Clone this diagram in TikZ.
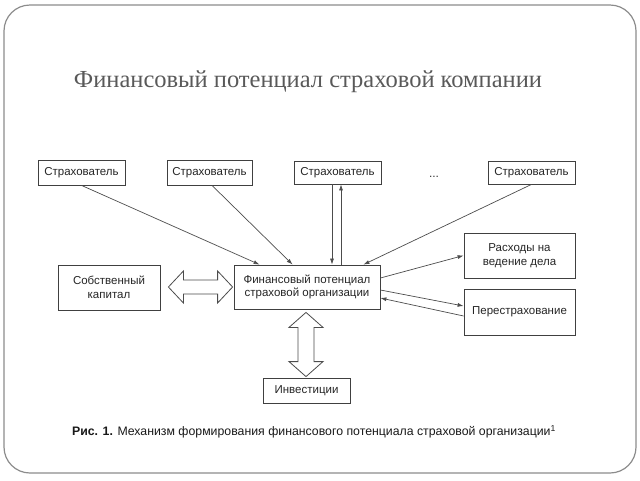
\documentclass[tikz,border=0pt]{standalone}
\usepackage{fontspec}
\setmainfont{Liberation Serif}
\newfontfamily\boxfont{Liberation Sans}
\usetikzlibrary{arrows.meta,calc}
\begin{document}
\begin{tikzpicture}[x=1pt,y=-1pt,
  box/.style={draw=black!75,line width=0.8pt,fill=white,text=black!85,font=\boxfont\fontsize{11.5}{13.5}\selectfont,align=center,inner sep=0pt},
  con/.style={draw=black!70,line width=0.7pt,-{Latex[length=6pt,width=4pt]}},
  dbl/.style={draw=black!70,line width=0.8pt,fill=white,line join=miter}
]
\useasboundingbox (0,0) rectangle (640,480);
\draw[draw=black!45,line width=1.2pt,rounded corners=26pt] (4,5) rectangle (636,473);
\node[text=black!65,font=\fontsize{24.5}{28}\selectfont,anchor=base] (title) at (308,87) {Финансовый потенциал страховой компании};

\node[box,minimum width=87,minimum height=25] (s1) at (81.5,172.5) {Страхователь};
\node[box,minimum width=85,minimum height=25] (s2) at (209.5,172.5) {Страхователь};
\node[box,minimum width=87,minimum height=23] (s3) at (337.5,172.5) {Страхователь};
\node[text=black!80,font=\boxfont\fontsize{12}{14}\selectfont,anchor=base] (dots) at (434,177) {...};
\node[box,minimum width=87,minimum height=23] (s4) at (531.5,172.5) {Страхователь};

\node[box,minimum width=146,minimum height=44] (fin) at (307,287) {Финансовый потенциал\\страховой организации};
\node[box,minimum width=102,minimum height=45] (own) at (109,287.5) {Собственный\\капитал};
\node[box,minimum width=111,minimum height=45] (ras) at (519.5,255.5) {Расходы на\\ведение дела};
\node[box,minimum width=111,minimum height=46] (per) at (519.5,312) {Перестрахование};
\node[box,minimum width=87,minimum height=25] (inv) at (306.5,390.5) {Инвестиции};

\node[text=black!90,font=\boxfont\fontsize{12.3}{14}\selectfont] (cap) at (314,432) {\textbf{Рис. 1.} Механизм формирования финансового потенциала страховой организации\textsuperscript{1}};

\draw[con] (s1.south) -- ([xshift=26pt]fin.north west);
\draw[con] ([xshift=2.5pt]s2.south) -- ([xshift=59pt]fin.north west);
\draw[con] ([xshift=-5.5pt]s3.south) -- ([xshift=-5.5pt]s3.south |- fin.north);
\draw[con] ([xshift=3.5pt]s3.south |- fin.north) -- ([xshift=3.5pt]s3.south);
\draw[con] (s4.south) -- ([xshift=-17pt]fin.north east);
\draw[con] ([yshift=9pt]fin.east) -- (ras.west);
\draw[con] ([yshift=-3pt]fin.east) -- ([yshift=6pt]per.west);
\draw[con] ([yshift=-4pt]per.west) -- ([yshift=-11pt]fin.east);

% horizontal hollow double arrow between own and fin
\coordinate (hl) at ($(own.east |- fin.west)+(8,0)$);
\coordinate (hr) at ($(fin.west)+(-1,0)$);
\draw[dbl] (hl) -- ($(hl)+(15,-16)$) -- ($(hl)+(15,-7)$) -- ($(hr)+(-15,-7)$) -- ($(hr)+(-15,-16)$)
  -- (hr) -- ($(hr)+(-15,16)$) -- ($(hr)+(-15,7)$) -- ($(hl)+(15,7)$) -- ($(hl)+(15,16)$) -- cycle;

% vertical hollow double arrow between fin and inv
\coordinate (vt) at ($(fin.south)+(-1,3)$);
\coordinate (vb) at ($(vt |- inv.north)+(0,-1)$);
\draw[dbl] (vt) -- ($(vt)+(17,15)$) -- ($(vt)+(8,15)$) -- ($(vb)+(8,-15)$) -- ($(vb)+(17,-15)$)
  -- (vb) -- ($(vb)+(-17,-15)$) -- ($(vb)+(-8,-15)$) -- ($(vt)+(-8,15)$) -- ($(vt)+(-17,15)$) -- cycle;
\end{tikzpicture}
\end{document}
